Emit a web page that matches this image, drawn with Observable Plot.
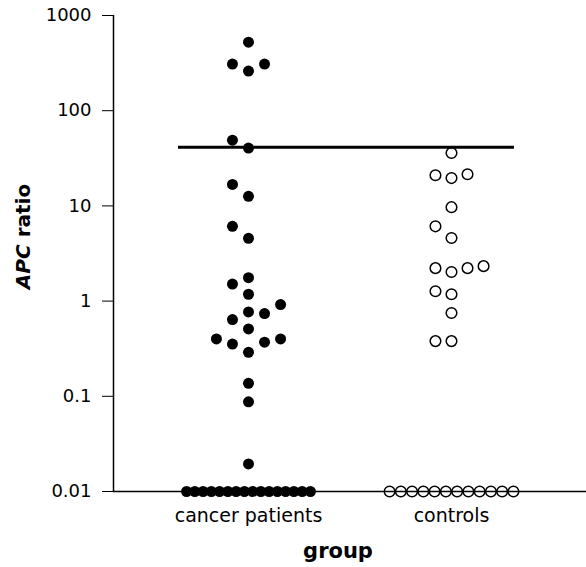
<!DOCTYPE html>
<html>
<head>
<meta charset="utf-8">
<script src="https://cdn.jsdelivr.net/npm/d3@7"></script>
<script src="https://cdn.jsdelivr.net/npm/@observablehq/plot@0.6"></script>
<style>
  body { margin: 0; background: #fff; }
</style>
</head>
<body>
<div id="chart"></div>
<script>
// ---- data ----
const groups = ["cancer patients", "controls"];
const cancerValues = [525, 309, 309, 261, 49, 40.5, 16.8, 12.6, 6.1, 4.56, 1.76, 1.51, 1.18, 0.92,
  0.77, 0.74, 0.64, 0.51, 0.40, 0.40, 0.37, 0.354, 0.29, 0.137, 0.0875, 0.0195,
  0.01, 0.01, 0.01, 0.01, 0.01, 0.01, 0.01, 0.01, 0.01, 0.01, 0.01, 0.01, 0.01, 0.01, 0.01, 0.01];
const controlValues = [36, 21, 19.6, 21.5, 9.7, 6.1, 4.6, 2.22, 2.02, 2.22, 2.33, 1.27, 1.18, 0.75, 0.38, 0.38,
  0.01, 0.01, 0.01, 0.01, 0.01, 0.01, 0.01, 0.01, 0.01, 0.01, 0.01, 0.01];
const cutoff = 41.4;
const yTicks = [0.01, 0.1, 1, 10, 100, 1000];
const yTickLabels = ["0.01", "0.1", "1", "10", "100", "1000"];
const floorValue = 0.01;

// ---- layout helpers (column scatter, Prism style) ----
const yDomain = [0.01, 1000];
const xDomain = [-0.665, 1.665];
const slot = 0.079;      // horizontal slot width in x units
const maxRow = 0.61;     // max width of a tied row in x units
const collide = 0.165;   // vertical collision distance in decades

function layout(values, gi) {
  const out = [];
  const floor = values.filter(v => v <= floorValue);
  const n = floor.length;
  const step = n > 1 ? Math.min(slot, maxRow / (n - 1)) : 0;
  floor.forEach((v, i) => out.push({group: groups[gi], value: v, x: gi + (i - (n - 1) / 2) * step}));
  const rest = values.filter(v => v > floorValue).slice().sort((a, b) => a - b);
  const placed = [];
  const order = [0, -1, 1, 2, -2, 3, -3, 4, -4, 5, -5];
  for (const v of rest) {
    const lv = Math.log10(v);
    for (const s of order) {
      if (!placed.some(p => p.s === s && Math.abs(p.lv - lv) < collide)) {
        placed.push({s, lv});
        out.push({group: groups[gi], value: v, x: gi + s * slot});
        break;
      }
    }
  }
  return out;
}

const cancerPts = layout(cancerValues, 0);
const controlPts = layout(controlValues, 1);

const plot = Plot.plot({
  width: 586,
  height: 567,
  marginTop: 15,
  marginBottom: 76,
  marginLeft: 113,
  marginRight: 0,
  style: {fontFamily: "'DejaVu Sans', sans-serif", fontSize: "18px", background: "white", color: "black"},
  x: {domain: xDomain, ticks: [0, 1], tickFormat: i => groups[i], tickSize: 0, tickPadding: 17, label: null},
  y: {type: "log", domain: yDomain, ticks: yTicks, tickFormat: d => yTickLabels[yTicks.indexOf(d)],
      tickSize: 11, tickPadding: 11, label: null},
  marks: [
    Plot.ruleX([xDomain[0]], {stroke: "black", strokeWidth: 1.5}),
    Plot.ruleY([yDomain[0]], {stroke: "black", strokeWidth: 1.5}),
    Plot.ruleY([cutoff], {x1: 0 - 0.345, x2: 1 + 0.31, stroke: "black", strokeWidth: 3}),
    Plot.dot(cancerPts, {x: "x", y: "value", r: 5.5, fill: "black", stroke: "none"}),
    Plot.dot(controlPts, {x: "x", y: "value", r: 5.3, fill: "none", stroke: "black", strokeWidth: 1.5}),
    Plot.text(["APC ratio"], {frameAnchor: "left", textAnchor: "middle", dx: -90, dy: -17, rotate: -90,
      fontWeight: "bold", fontSize: 20}),
    Plot.text(["group"], {frameAnchor: "bottom", dx: -12, dy: 66, fontWeight: "bold", fontSize: 21})
  ]
});

d3.select(plot).selectAll("text").filter(function() { return this.textContent === "APC ratio"; })
  .each(function() {
    const t = d3.select(this);
    t.text(null);
    t.append("tspan").attr("font-style", "italic").text("APC");
    t.append("tspan").text(" ratio");
  });

// category labels slightly larger, as in the reference
d3.select(plot).selectAll("text").filter(function() { return groups.includes(this.textContent); })
  .attr("font-size", 19);

document.getElementById("chart").appendChild(plot);
</script>
</body>
</html>
